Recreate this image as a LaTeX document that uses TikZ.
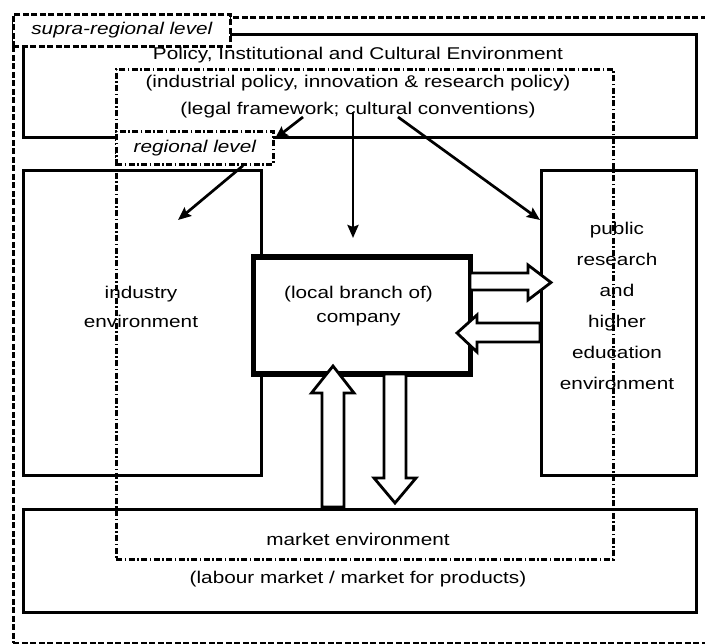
\documentclass[tikz,border=0pt]{standalone}
\usepackage{fontspec}
\setmainfont{Liberation Sans}[FakeStretch=1.22]
\usetikzlibrary{arrows.meta,calc}
\begin{document}
\begin{tikzpicture}[x=1pt,y=-1pt,
  txt/.style={font=\fontsize{17}{27}\selectfont, align=center, inner sep=0pt},
  solidbox/.style={draw, line width=2.7pt, inner sep=0pt, anchor=north west},
  dashbox/.style={draw, line width=2.7pt, dash pattern=on 6pt off 2.5pt},
  dashdot/.style={draw, line width=2.7pt, dash pattern=on 6pt off 2.5pt on 1.5pt off 2.5pt},
  frame/.style={anchor=north west, inner sep=0pt},
  levellabel/.style={anchor=north west, inner sep=0pt, fill=white, font=\fontsize{17}{20}\selectfont\itshape},
  thinarrow/.style={line width=2.7pt, -{Stealth[length=13pt,width=11pt,inset=2pt]}},
  blockarrow/.style={draw, fill=white, line width=2.8pt, line join=miter},
]
\useasboundingbox (0,0) rectangle (705,644);
\clip (0,0) rectangle (705,644);
\fill[white] (0,0) rectangle (705,644);
% outer supra-regional frame (runs past the right edge)
\node[frame, dashbox, minimum width=718pt, minimum height=626pt] (supra) at (12,16) {};
% boxes
\node[solidbox, minimum width=673pt, minimum height=103pt] (policy) at (22,33) {};
\node[solidbox, minimum width=238pt, minimum height=305pt] (industry) at (22,169) {};
\node[solidbox, minimum width=155pt, minimum height=305pt] (public) at (540,169) {};
\node[solidbox, minimum width=673pt, minimum height=103pt] (market) at (22,508) {};
\node[solidbox, line width=5.5pt, fill=white, minimum width=217pt, minimum height=117pt] (company) at (250.5,254.5) {};
% regional frame
\node[frame, dashdot, minimum width=497pt, minimum height=490pt] (regional) at (115,68) {};
% level labels
\node[levellabel, dashbox, minimum width=217pt, minimum height=32pt] (supralab) at (12,13) {supra-regional level};
\node[levellabel, dashdot, minimum width=157pt, minimum height=33pt] (reglab) at (115,130) {regional level};
% texts
\node[txt, font=\fontsize{17}{27.5}\selectfont] (policytxt) at (358,83)
  {Policy, Institutional and Cultural Environment\\(industrial policy, innovation \& research policy)\\(legal framework; cultural conventions)};
\node[txt, font=\fontsize{17}{29}\selectfont] (industrytxt) at (141,307) {industry\\environment};
\node[txt, font=\fontsize{17}{24}\selectfont] (companytxt) at (358.5,306.5) {(local branch of)\\company};
\node[txt, font=\fontsize{17}{31}\selectfont] (publictxt) at (617,305.5) {public\\research\\and\\higher\\education\\environment};
\node[txt, font=\fontsize{17}{38}\selectfont] (markettxt) at (358,560) {market environment\\(labour market / market for products)};
% thin arrows
\coordinate (a1s) at (303,117);
\coordinate (a2e) at (178,220);
\coordinate (a3s) at (353,112);
\coordinate (a3e) at (353,238);
\coordinate (a4s) at (398,117);
\draw[thinarrow] (a1s) -- ($(reglab.north east)+(0,9)$);
\draw[thinarrow] ($(reglab.south west)+(128,0)$) -- (a2e);
\draw[thinarrow] (a3s) -- (a3e);
\draw[thinarrow] (a4s) -- ($(public.north west)+(0,51)$);
% block arrows
\draw[blockarrow] (470,273) -- (528,273) -- (528,265) -- (551,282.5) -- (528,300) -- (528,290) -- (470,290) -- cycle;
\draw[blockarrow] (540,323) -- (477,323) -- (477,315) -- (457,333) -- (477,352) -- (477,342) -- (540,342) -- cycle;
\draw[blockarrow] (322,507) -- (322,393) -- (311.5,393) -- (333,366) -- (354,393) -- (344,393) -- (344,507) -- cycle;
\draw[blockarrow] (384,374) -- (384,478) -- (374,478) -- (395,503) -- (416,478) -- (406,478) -- (406,374) -- cycle;
\end{tikzpicture}
\end{document}
